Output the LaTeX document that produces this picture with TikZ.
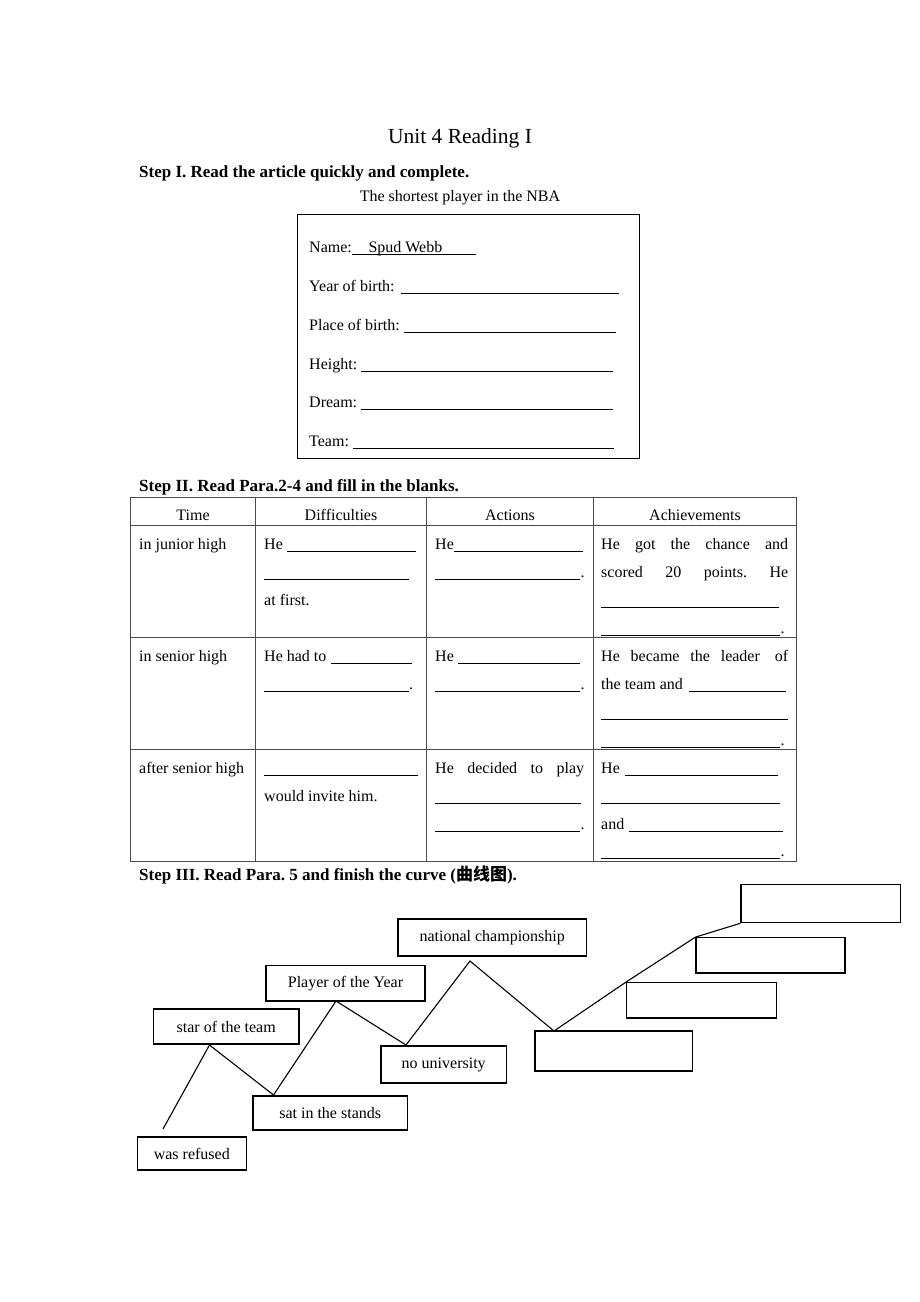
\documentclass[tikz,border=0pt]{standalone}
\usepackage{fontspec}
\setmainfont{Liberation Serif}
\newfontfamily\cjk{Noto Sans CJK SC}
\usetikzlibrary{calc}
\frenchspacing
\tikzset{
  txt/.style={anchor=base west, inner sep=0pt, font=\fontsize{16}{19}\selectfont},
  ctxt/.style={anchor=base, inner sep=0pt, font=\fontsize{16}{19}\selectfont},
  head/.style={anchor=base west, inner sep=0pt, font=\fontsize{17}{20}\selectfont\bfseries},
  blank/.style={line width=0.7pt},
  gridln/.style={line width=0.9pt, black!70},
  formbox/.style={draw, line width=1pt, inner sep=0pt},
  cbox/.style={draw, line width=1.1pt, inner sep=0pt, font=\fontsize{16}{19}\selectfont},
  curveln/.style={line width=1.1pt},
}
\newcommand\blankln[3]{\draw[blank] (#1,#3) -- (#2,#3);}
\newcommand\dotat[3]{\node[txt] (#1) at (#2,#3) {.};}
\begin{document}
\begin{tikzpicture}[x=1pt,y=-1pt]
\useasboundingbox (0,0) rectangle (920,1302);
\fill[white] (0,0) rectangle (920,1302);

% Title and step I
\node[anchor=base, inner sep=0pt, font=\fontsize{21.5}{25}\selectfont] (title) at (460,143) {Unit 4 Reading I};
\node[head] (step1) at (139,177) {Step I. Read the article quickly and complete.};
\node[ctxt] (sub) at (460,201) {The shortest player in the NBA};

\node[formbox, minimum width=341.7pt, minimum height=244.3pt] (form) at (468.15,336.15) {};
\node[txt] (nm) at (309,252.5) {Name:};
\node[txt] (sw) at (368.3,252.5) {Spud Webb};
\blankln{352}{476}{254.5}
\node[txt] (yb) at (309,291.5) {Year of birth:};
\blankln{400.7}{619.3}{293.5}
\node[txt] (pb) at (309,330) {Place of birth:};
\blankln{404.3}{615.7}{332}
\node[txt] (ht) at (309,369) {Height:};
\blankln{361}{612.7}{371}
\node[txt] (dr) at (309,407.5) {Dream:};
\blankln{361}{612.7}{409.5}
\node[txt] (tm) at (309,446) {Team:};
\blankln{353.3}{614}{448}

% Step II table
\node[head] (step2) at (139,491) {Step II. Read Para.2-4 and fill in the blanks.};
\draw[gridln] (130.5,497.3) rectangle (796,861);
\draw[gridln] (130.5,525.3) -- (796,525.3);
\draw[gridln] (130.5,637.6) -- (796,637.6);
\draw[gridln] (130.5,749.4) -- (796,749.4);
\draw[gridln] (255.6,497.3) -- (255.6,861);
\draw[gridln] (426,497.3) -- (426,861);
\draw[gridln] (593.6,497.3) -- (593.6,861);

\node[ctxt] (hTime) at (193,520) {Time};
\node[ctxt] (hDiff) at (341,520) {Difficulties};
\node[ctxt] (hAct) at (510,520) {Actions};
\node[ctxt] (hAch) at (695,520) {Achievements};

% row 1
\node[txt] (r1c1) at (139,549) {in junior high};
\node[txt] (r1c2a) at (264,549) {He};
\blankln{287}{416}{551}
\blankln{264}{409}{579}
\node[txt] (r1c2c) at (264,605) {at first.};
\node[txt] (r1c3a) at (435,549) {He};
\blankln{454}{583}{551}
\blankln{435}{580}{579}
\dotat{r1c3d}{580.5}{577}
\node[txt] (r1c4a) at (601,549) {\makebox[187pt][s]{He got the chance and}};
\node[txt] (r1c4b) at (601,577) {\makebox[187pt][s]{scored 20 points. He}};
\blankln{601}{779}{607}
\blankln{601}{780}{635}
\dotat{r1c4d}{780.5}{633}

% row 2
\node[txt] (r2c1) at (139,661) {in senior high};
\node[txt] (r2c2a) at (264,661) {He had to};
\blankln{331}{412}{663}
\blankln{264}{408.5}{691}
\dotat{r2c2d}{409}{689}
\node[txt] (r2c3a) at (435,661) {He};
\blankln{458}{580}{663}
\blankln{435}{580}{691}
\dotat{r2c3d}{580.5}{689}
\node[txt] (r2c4a) at (601,661) {\makebox[187pt][s]{He became the leader\hspace{15pt}of}};
\node[txt] (r2c4b) at (601,689) {the team and};
\blankln{689}{786}{691}
\blankln{601}{788}{719}
\blankln{601}{780}{747}
\dotat{r2c4d}{780.5}{745}

% row 3
\node[txt] (r3c1) at (139,773) {after senior high};
\blankln{264}{417.5}{775}
\node[txt] (r3c2b) at (264,801) {would invite him.};
\node[txt] (r3c3a) at (435,773) {\makebox[149pt][s]{He decided to play}};
\blankln{435}{581}{803}
\blankln{435}{580}{831}
\dotat{r3c3d}{580.5}{829}
\node[txt] (r3c4a) at (601,773) {He};
\blankln{625}{778}{775}
\blankln{601}{780}{803}
\node[txt] (r3c4c) at (601,829) {and};
\blankln{629}{783}{831}
\blankln{601}{780}{858.5}
\dotat{r3c4d}{780.5}{856.5}

% Step III curve
\node[head] (step3) at (139,880) {Step III. Read Para. 5 and finish the curve ({\cjk\bfseries 曲线图}).};

\node[cbox, minimum width=109.5pt, minimum height=33pt] (refused) at (191.8,1153.5) {was refused};
\node[cbox, minimum width=154.5pt, minimum height=34pt] (sat) at (330.2,1113) {sat in the stands};
\node[cbox, minimum width=145.5pt, minimum height=35pt] (star) at (226.2,1026.5) {star of the team};
\node[cbox, minimum width=159pt, minimum height=35.3pt] (player) at (345.5,983.3) {Player of the Year};
\node[cbox, minimum width=125.5pt, minimum height=37pt] (nouni) at (443.7,1064.5) {no university};
\node[cbox, minimum width=188.5pt, minimum height=37pt] (national) at (492.2,937.5) {national championship};
\node[cbox, minimum width=157.5pt, minimum height=40pt] (blank1) at (613.7,1051) {};
\node[cbox, minimum width=150pt, minimum height=35.3pt] (blank2) at (701.5,1000.3) {};
\node[cbox, minimum width=149pt, minimum height=35.3pt] (blank3) at (770.5,955.3) {};
\node[cbox, minimum width=159.5pt, minimum height=38pt] (blank4) at (820.7,903.7) {};

\coordinate (c0) at (163,1129);
\coordinate (c1) at (209.5,1045);
\coordinate (c2) at (273.5,1095);
\coordinate (c3) at (336,1001);
\coordinate (c4) at (406,1045);
\coordinate (c5) at (470,961);
\coordinate (c6) at (554,1031);
\draw[curveln] (c0) -- (c1) -- (c2) -- (c3) -- (c4) -- (c5) -- (c6)
  -- (blank2.north west) -- (blank3.north west) -- (blank4.south west);
\end{tikzpicture}
\end{document}
